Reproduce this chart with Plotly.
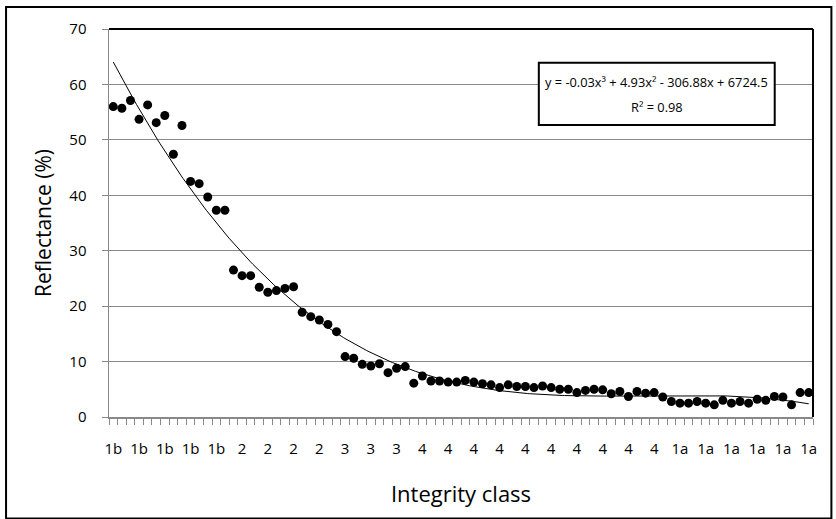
import numpy as np
import plotly.graph_objects as go

# Integrity class of each sample (82 samples, every 3rd label shown)
classes = (["1b"] * 14 + ["2"] * 13 + ["3"] * 8 + ["4"] * 30 + ["1a"] * 17)

reflectance = [
    56.0, 55.7, 57.1, 53.7, 56.3, 53.1, 54.4, 47.4, 52.6, 42.5,
    42.1, 39.7, 37.3, 37.3, 26.5, 25.5, 25.5, 23.4, 22.5, 22.8,
    23.2, 23.5, 18.9, 18.1, 17.5, 16.7, 15.4, 10.9, 10.6, 9.5,
    9.2, 9.6, 8.0, 8.8, 9.1, 6.1, 7.4, 6.5, 6.5, 6.3,
    6.3, 6.6, 6.3, 6.0, 5.8, 5.3, 5.8, 5.5, 5.5, 5.3,
    5.6, 5.3, 5.0, 5.0, 4.4, 4.8, 5.0, 4.9, 4.2, 4.6,
    3.7, 4.6, 4.3, 4.4, 3.6, 2.8, 2.5, 2.5, 2.8, 2.5,
    2.2, 3.0, 2.5, 2.8, 2.5, 3.2, 3.0, 3.7, 3.6, 2.2,
    4.4, 4.4,
]

equation_line = "y = -0.03x³ + 4.93x² - 306.88x + 6724.5"
r2_line = "R² = 0.98"
x_title = "Integrity class"
y_title = "Reflectance (%)"

idx = np.arange(len(reflectance))
label_step = 3
tick_idx = idx[::label_step]
tick_text = [classes[i] for i in tick_idx]

# cubic polynomial trend line fitted to the data
coef = np.polyfit(idx, reflectance, 3)
xs = np.linspace(idx[0], idx[-1], 300)
ys = np.polyval(coef, xs)

FONT = "Open Sans"
GRID = "#898989"

fig = go.Figure()
fig.add_trace(go.Scatter(
    x=idx, y=reflectance, mode="markers",
    marker=dict(color="black", size=9, line=dict(width=0)),
    showlegend=False, hoverinfo="skip"))
fig.add_trace(go.Scatter(
    x=xs, y=ys, mode="lines",
    line=dict(color="black", width=1),
    showlegend=False, hoverinfo="skip"))

W, H = 836, 519
L, R, T, B = 109, 813.3, 29, 416.7
pw, ph = R - L, B - T

def px(x):
    return (x - L) / pw

def py(y):
    return (B - y) / ph

fig.update_layout(
    width=W, height=H,
    margin=dict(l=L, r=W - R, t=T, b=H - B),
    paper_bgcolor="white", plot_bgcolor="white",
    font=dict(family=FONT, color="black", size=15),
    hovermode=False,
    xaxis=dict(
        range=[-0.5, len(reflectance) - 0.5],
        tickmode="array", tickvals=tick_idx, ticktext=tick_text,
        ticks="", showgrid=False, zeroline=False,
        showline=True, linecolor=GRID, linewidth=1.5,
        tickfont=dict(size=15, family=FONT),
        ticklabelstandoff=17,
        minor=dict(tickmode="linear", tick0=-0.5, dtick=1, ticks="outside",
                   ticklen=6, tickcolor=GRID, tickwidth=1, showgrid=False),
        title=dict(text=x_title, font=dict(size=22, family=FONT), standoff=30),
    ),
    yaxis=dict(
        range=[0, 70], dtick=10, tick0=0,
        showgrid=True, gridcolor=GRID, gridwidth=1,
        zeroline=False,
        showline=True, linecolor=GRID, linewidth=1.5,
        ticks="outside", ticklen=6, tickcolor=GRID, tickwidth=1,
        tickfont=dict(size=15, family=FONT),
        ticklabelstandoff=12,
        title=dict(text=y_title, font=dict(size=21, family=FONT), standoff=12),
    ),
    shapes=[
        # plot-area top and right borders
        dict(type="line", xref="paper", yref="paper", x0=0, x1=1, y0=1, y1=1,
             line=dict(color="black", width=2)),
        dict(type="line", xref="paper", yref="paper", x0=1, x1=1, y0=0, y1=1,
             line=dict(color="black", width=2)),
        # outer chart border
        dict(type="rect", xref="paper", yref="paper",
             x0=px(6), x1=px(831.7), y0=py(518), y1=py(7),
             line=dict(color="black", width=2), fillcolor="rgba(0,0,0,0)"),
        # trend-line label box
        dict(type="rect", xref="paper", yref="paper", layer="above",
             x0=px(539), x1=px(775), y0=py(125), y1=py(62.7),
             line=dict(color="black", width=2), fillcolor="white"),
    ],
    annotations=[
        dict(text=equation_line, xref="paper", yref="paper",
             x=px(657), y=py(82), xanchor="center", yanchor="middle",
             showarrow=False, font=dict(size=12.8, family=FONT, color="black")),
        dict(text=r2_line, xref="paper", yref="paper",
             x=px(657), y=py(107), xanchor="center", yanchor="middle",
             showarrow=False, font=dict(size=12.8, family=FONT, color="black")),
    ],
)

fig.write_html("out.html",
               config={"displayModeBar": False, "staticPlot": True},
               post_script="document.body.style.margin='0';document.body.style.overflow='hidden';")
